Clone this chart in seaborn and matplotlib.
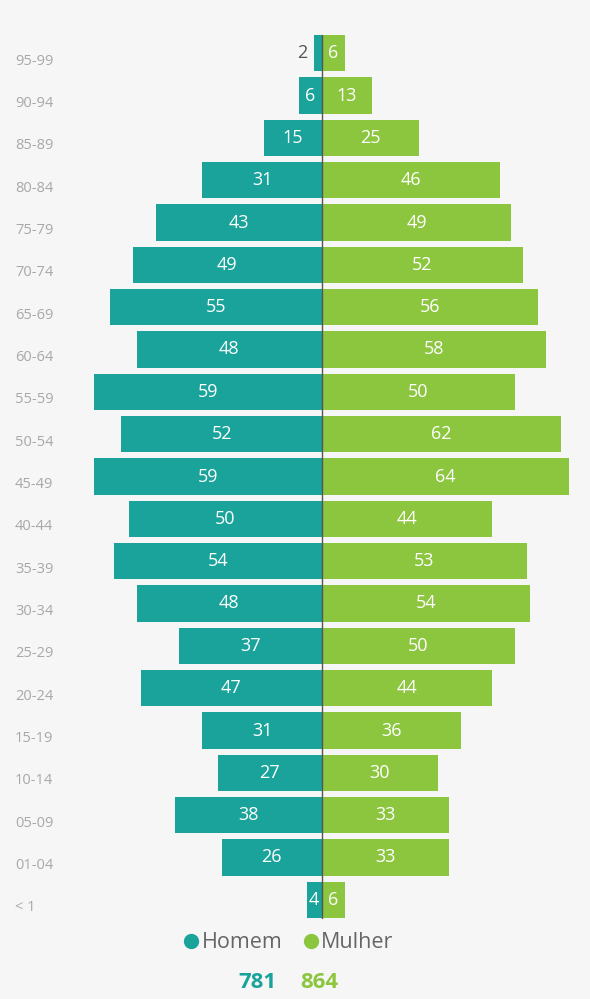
import numpy as np
import pandas as pd
import matplotlib
matplotlib.use("Agg")
import matplotlib.pyplot as plt
import seaborn as sns
from matplotlib.lines import Line2D
from matplotlib.transforms import ScaledTranslation

# ---- data ----
age_groups = ["95-99", "90-94", "85-89", "80-84", "75-79", "70-74", "65-69",
              "60-64", "55-59", "50-54", "45-49", "40-44", "35-39", "30-34",
              "25-29", "20-24", "15-19", "10-14", "05-09", "01-04", "< 1"]
homem = [2, 6, 15, 31, 43, 49, 55, 48, 59, 52, 59, 50, 54, 48, 37, 47, 31, 27, 38, 26, 4]
mulher = [6, 13, 25, 46, 49, 52, 56, 58, 50, 62, 64, 44, 53, 54, 50, 44, 36, 30, 33, 33, 6]
series_names = ["Homem", "Mulher"]

TEAL = "#1aa39a"
GREEN = "#8cc63f"
BG = "#f6f6f6"

sns.set_theme(style="white")
plt.rcParams["font.family"] = ["Open Sans", "DejaVu Sans"]

W, H = 590, 999
fig = plt.figure(figsize=(W / 100, H / 100), dpi=100)
fig.patch.set_facecolor(BG)

ax_left_px, ax_right_px = 75, 585
top_px, bottom_px = 32, 921
ax = fig.add_axes([ax_left_px / W, 1 - bottom_px / H,
                   (ax_right_px - ax_left_px) / W, (bottom_px - top_px) / H])
ax.set_facecolor(BG)

df = pd.DataFrame({"age": age_groups, "homem": homem, "mulher": mulher})
df["homem_neg"] = -df["homem"]

bar_w = 0.86
sns.barplot(data=df, x="homem_neg", y="age", color=TEAL, saturation=1,
            width=bar_w, ax=ax, orient="h", linewidth=0)
sns.barplot(data=df, x="mulher", y="age", color=GREEN, saturation=1,
            width=bar_w, ax=ax, orient="h", linewidth=0)

center_px = 322
ppu = 3.86
ax.set_xlim(-(center_px - ax_left_px) / ppu, (ax_right_px - center_px) / ppu)
ax.set_ylim(len(age_groups) - 0.5, -0.5)

# center line
ax.plot([0, 0], [-bar_w / 2, len(age_groups) - 1 + bar_w / 2],
        color="#555555", lw=1.0, zorder=5)

# value labels
FS = 13
for i, (h, m) in enumerate(zip(homem, mulher)):
    if h < 3:
        ax.annotate(str(h), (-h, i), xytext=(-5, 0), textcoords="offset points",
                    ha="right", va="center", color="#555555", fontsize=FS)
    else:
        ax.text(-h / 2, i, str(h), ha="center", va="center",
                color="white", fontsize=FS)
    if m < 3:
        ax.annotate(str(m), (m, i), xytext=(5, 0), textcoords="offset points",
                    ha="left", va="center", color="#555555", fontsize=FS)
    else:
        ax.text(m / 2, i, str(m), ha="center", va="center",
                color="white", fontsize=FS)

# axes styling
for s in ax.spines.values():
    s.set_visible(False)
ax.set_xticks([])
ax.set_xlabel("")
ax.set_ylabel("")
ax.tick_params(axis="y", length=0, pad=0, labelsize=10.5, labelcolor="#a8a8a8")
offset = ScaledTranslation((15 - ax_left_px) / 100, -6 / 100, fig.dpi_scale_trans)
for lbl in ax.get_yticklabels():
    lbl.set_ha("left")
    lbl.set_transform(lbl.get_transform() + offset)

# legend
handles = [Line2D([], [], marker="o", linestyle="none", markersize=10,
                  markerfacecolor=c, markeredgecolor=c) for c in (TEAL, GREEN)]
leg = fig.legend(handles, series_names, loc="center", ncol=2,
                 bbox_to_anchor=(287 / W, 1 - 943 / H), frameon=False,
                 fontsize=15.5, labelcolor="#666666", handletextpad=0.0,
                 columnspacing=0.8, handlelength=1.0, borderpad=0)

# totals
fig.text(257 / W, 1 - 983 / H, str(sum(homem)), color=TEAL, fontsize=16,
         fontweight="bold", ha="center", va="center")
fig.text(319 / W, 1 - 983 / H, str(sum(mulher)), color=GREEN, fontsize=16,
         fontweight="bold", ha="center", va="center")

fig.savefig("out.png", dpi=100, facecolor=BG)
